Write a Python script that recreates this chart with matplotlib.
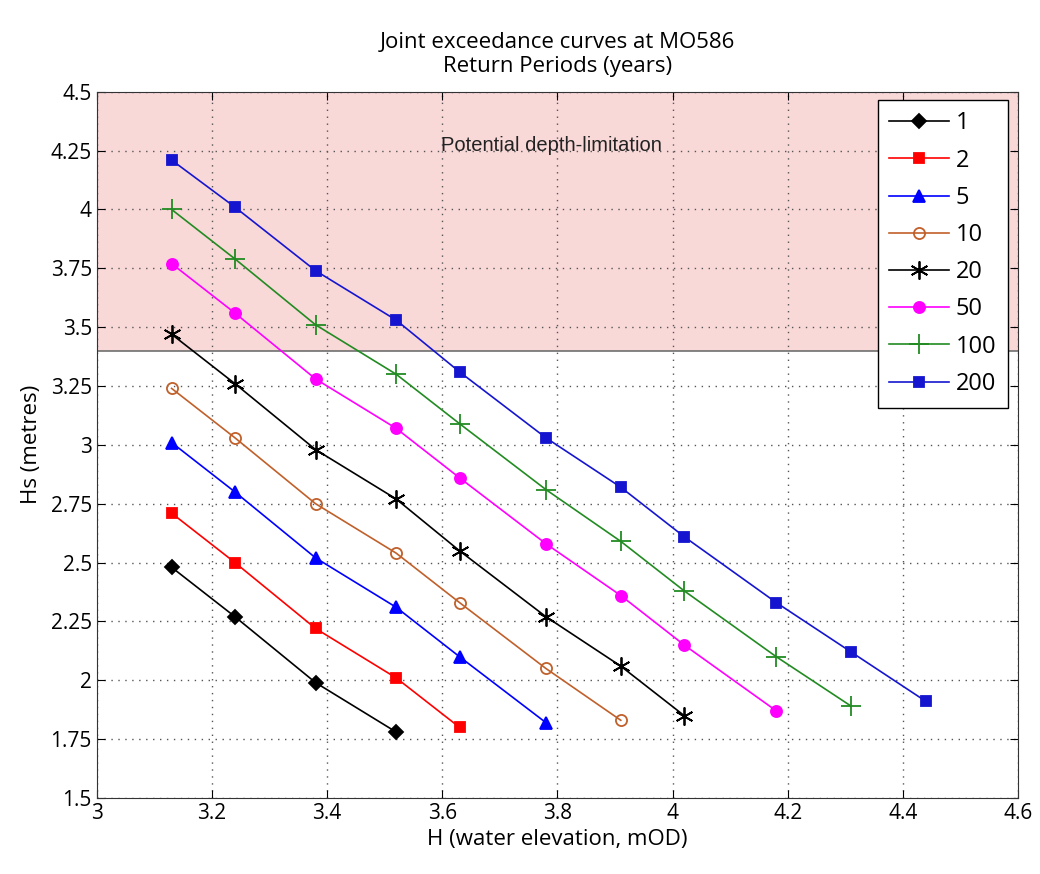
import matplotlib
matplotlib.use('Agg')
import matplotlib.pyplot as plt
from matplotlib.ticker import FormatStrFormatter, MultipleLocator

# Water elevation values shared by all curves (mOD)
water_levels = [3.13, 3.24, 3.38, 3.52, 3.63, 3.78, 3.91, 4.02, 4.18, 4.31, 4.44]

# Hs (metres) for each return period
return_periods = ['1', '2', '5', '10', '20', '50', '100', '200']
hs_1 = [2.48, 2.27, 1.99, 1.78]
hs_2 = [2.71, 2.50, 2.22, 2.01, 1.80]
hs_5 = [3.01, 2.80, 2.52, 2.31, 2.10, 1.82]
hs_10 = [3.24, 3.03, 2.75, 2.54, 2.33, 2.05, 1.83]
hs_20 = [3.47, 3.26, 2.98, 2.77, 2.55, 2.27, 2.06, 1.85]
hs_50 = [3.77, 3.56, 3.28, 3.07, 2.86, 2.58, 2.36, 2.15, 1.87]
hs_100 = [4.00, 3.79, 3.51, 3.30, 3.09, 2.81, 2.59, 2.38, 2.10, 1.89]
hs_200 = [4.21, 4.01, 3.74, 3.53, 3.31, 3.03, 2.82, 2.61, 2.33, 2.12, 1.91]

depth_limit = 3.4

plt.rcParams['font.family'] = ['Open Sans', 'DejaVu Sans']

fig = plt.figure(figsize=(10.4, 8.74), dpi=100)
ax = fig.add_axes([0.093, 0.087, 0.886, 0.808])

# Shaded zone above the depth limit
ax.axhspan(depth_limit, 4.5, facecolor='#f9d8d8', edgecolor='none', zorder=0)
ax.axhline(depth_limit, color='#707070', linewidth=1.2, zorder=1)
ax.text(3.79, 4.27, 'Potential depth-limitation', family='Liberation Sans',
        fontsize=14.5, ha='center', va='center', color='#222222')

styles = [
    (hs_1, 'black', 'D', 'black', 7),
    (hs_2, 'red', 's', 'red', 7),
    (hs_5, 'blue', '^', 'blue', 8),
    (hs_10, '#c0602a', 'o', 'none', 8),
    (hs_20, 'black', (6, 2, 0), 'black', 13),
    (hs_50, 'magenta', 'o', 'magenta', 8),
    (hs_100, '#228b22', '+', '#228b22', 14),
    (hs_200, '#1515d0', 's', '#1515d0', 7),
]

for label, (hs, col, mk, face, ms) in zip(return_periods, styles):
    ax.plot(water_levels[:len(hs)], hs, color=col, marker=mk,
            markerfacecolor=face, markeredgecolor=col, markersize=ms,
            markeredgewidth=1.3, linewidth=1.2, label=label, zorder=3)

ax.set_xlim(3, 4.6)
ax.set_ylim(1.5, 4.5)
ax.xaxis.set_major_locator(MultipleLocator(0.2))
ax.yaxis.set_major_locator(MultipleLocator(0.25))
ax.xaxis.set_major_formatter(FormatStrFormatter('%g'))
ax.yaxis.set_major_formatter(FormatStrFormatter('%g'))
ax.tick_params(direction='in', top=True, right=True, labelsize=15, length=6)
ax.grid(True, linestyle=(0, (1, 4)), color='#555555', linewidth=1.0)
ax.set_axisbelow(True)
for sp in ax.spines.values():
    sp.set_color('#333333')

ax.set_xlabel('H (water elevation, mOD)', fontsize=16, labelpad=4)
ax.set_ylabel('Hs (metres)', fontsize=16, labelpad=6)
ax.set_title('Joint exceedance curves at MO586\nReturn Periods (years)',
             fontsize=16, pad=14)

leg = ax.legend(loc='upper right', fontsize=17, fancybox=False, framealpha=1,
                edgecolor='black', handlelength=2.5, borderpad=0.5,
                labelspacing=0.56, handletextpad=0.3, borderaxespad=0,
                bbox_to_anchor=(0.989, 0.989))
leg.get_frame().set_linewidth(1.0)

fig.savefig('out.png', dpi=100)
